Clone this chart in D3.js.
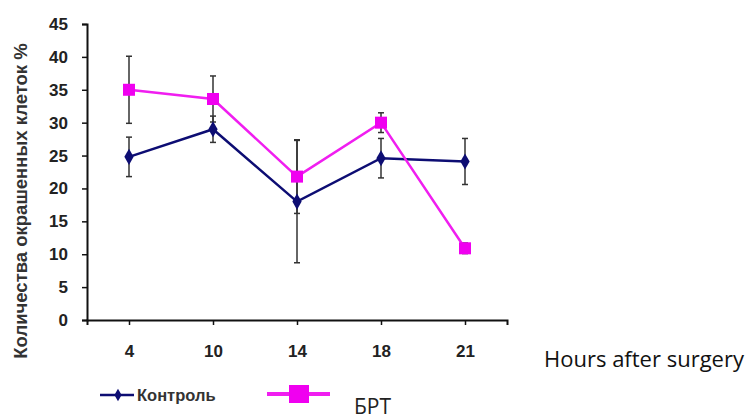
<!DOCTYPE html>
<html>
<head>
<meta charset="utf-8">
<script src="https://cdn.jsdelivr.net/npm/d3@7"></script>
<style>
  html, body { margin: 0; padding: 0; background: #fff; }
  svg { display: block; }
</style>
</head>
<body>
<svg id="chart" width="754" height="419"></svg>
<script>
// Hours after surgery
const hours = ["4", "10", "14", "18", "21"];
// Control group: mean and error
const controlValues = [24.8, 29.0, 18.0, 24.6, 24.1];
const controlErrors = [3.0, 2.0, 9.3, 3.0, 3.5];
// БРТ group: mean and error
const brtValues = [35.0, 33.6, 21.8, 30.0, 10.9];
const brtErrors = [5.1, 3.5, 5.6, 1.5, 0.8];
const yTicks = [0, 5, 10, 15, 20, 25, 30, 35, 40, 45];

const svg = d3.select("#chart");
const plotLeft = 87, plotRight = 507, plotTop = 24, plotBottom = 320;

const x = d3.scalePoint().domain(hours).range([plotLeft, plotRight]).padding(0.5);
const y = d3.scaleLinear().domain([0, 45]).range([plotBottom, plotTop]);

const boldFont = "'Liberation Sans', Arial, sans-serif";

// Y axis
const yAxis = svg.append("g")
  .attr("transform", `translate(${plotLeft},0)`)
  .call(d3.axisLeft(y).tickValues(yTicks).tickSize(5).tickPadding(14));
// X axis
const xAxis = svg.append("g")
  .attr("transform", `translate(0,${plotBottom})`)
  .call(d3.axisBottom(x).tickSize(5).tickPadding(20).tickSizeOuter(5));

[yAxis, xAxis].forEach(g => {
  g.select(".domain").attr("stroke", "#111").attr("stroke-width", 2);
  g.selectAll(".tick line").attr("stroke", "#111").attr("stroke-width", 1.5);
  g.selectAll(".tick text")
    .attr("fill", "#222")
    .style("font-family", boldFont)
    .style("font-weight", "bold")
    .style("font-size", "17px");
});

// Y axis title
svg.append("text")
  .attr("transform", `translate(27,201) rotate(-90)`)
  .attr("text-anchor", "middle")
  .style("font-family", boldFont)
  .style("font-weight", "bold")
  .style("font-size", "18.5px")
  .attr("fill", "#333")
  .text("Количества окрашенных клеток %");

// Error bars
function errorBars(values, errors, cls) {
  const g = svg.append("g").attr("class", cls);
  hours.forEach((h, i) => {
    const cx = x(h);
    const y1 = y(values[i] + errors[i]);
    const y2 = y(values[i] - errors[i]);
    g.append("line").attr("x1", cx).attr("x2", cx).attr("y1", y1).attr("y2", y2)
      .attr("stroke", "#333").attr("stroke-width", 1.5);
    [y1, y2].forEach(yy => g.append("line")
      .attr("x1", cx - 3).attr("x2", cx + 3).attr("y1", yy).attr("y2", yy)
      .attr("stroke", "#333").attr("stroke-width", 1.5));
  });
}
errorBars(controlValues, controlErrors, "err-control");
errorBars(brtValues, brtErrors, "err-brt");

const line = d3.line().x((d, i) => x(hours[i])).y(d => y(d));

// Control series
svg.append("path").datum(controlValues)
  .attr("d", line).attr("fill", "none")
  .attr("stroke", "#0d0d73").attr("stroke-width", 2.5);
svg.append("g").selectAll("path").data(controlValues).join("path")
  .attr("d", d3.symbol(d3.symbolDiamond, 75))
  .attr("transform", (d, i) => `translate(${x(hours[i])},${y(d)})`)
  .attr("fill", "#0d0d73");

// БРТ series
svg.append("path").datum(brtValues)
  .attr("d", line).attr("fill", "none")
  .attr("stroke", "#f01ef0").attr("stroke-width", 2.5);
svg.append("g").selectAll("rect").data(brtValues).join("rect")
  .attr("x", (d, i) => x(hours[i]) - 6)
  .attr("y", d => y(d) - 6)
  .attr("width", 12).attr("height", 12)
  .attr("fill", "#f000f0");

// X axis title
svg.append("text")
  .attr("x", 544).attr("y", 367)
  .style("font-family", "'Open Sans', sans-serif")
  .style("font-size", "22px")
  .attr("fill", "#111")
  .text("Hours after surgery");

// Legend: control
svg.append("line").attr("x1", 100).attr("x2", 134).attr("y1", 395).attr("y2", 395)
  .attr("stroke", "#0d0d73").attr("stroke-width", 2.5);
svg.append("path").attr("d", d3.symbol(d3.symbolDiamond, 45))
  .attr("transform", "translate(118,395)").attr("fill", "#0d0d73");
svg.append("text").attr("x", 137).attr("y", 401)
  .style("font-family", boldFont).style("font-weight", "bold").style("font-size", "16.5px")
  .attr("fill", "#333").text("Контроль");

// Legend: БРТ
svg.append("line").attr("x1", 267).attr("x2", 330).attr("y1", 394).attr("y2", 394)
  .attr("stroke", "#f01ef0").attr("stroke-width", 4);
svg.append("rect").attr("x", 289).attr("y", 385).attr("width", 20).attr("height", 18)
  .attr("fill", "#f000f0");
svg.append("text").attr("x", 354).attr("y", 414)
  .style("font-family", "'Open Sans', sans-serif").style("font-size", "21px")
  .attr("fill", "#222").text("БРТ");
</script>
</body>
</html>
